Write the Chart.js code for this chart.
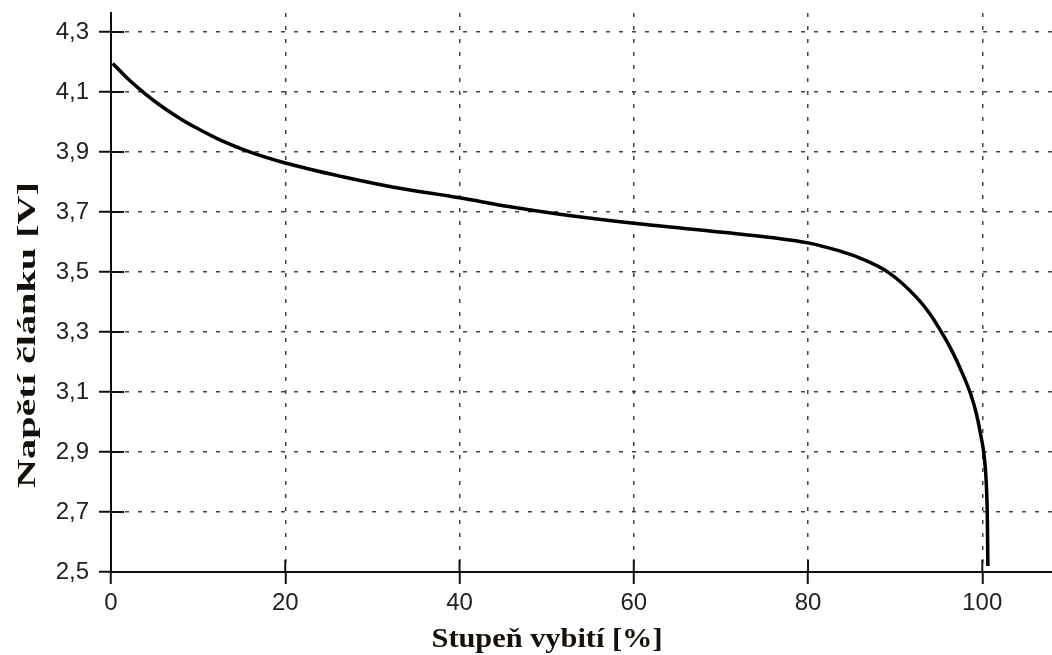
<!DOCTYPE html>
<html>
<head>
<meta charset="utf-8">
<script src="https://cdn.jsdelivr.net/npm/chart.js@4.4.1/dist/chart.umd.min.js"></script>
<style>
body{margin:0;background:#fff;}
</style>
</head>
<body>
<canvas id="discharge_chart" width="1052" height="655"></canvas>
<script>
// stupen vybiti [%] / napeti clanku [V]
var discharge = [0.2, 2, 4, 6, 8, 10, 12.5, 15.9, 20, 26.6, 32.3, 40, 45.8, 51.3, 60, 70.2, 76, 80, 83.6, 85.9, 89.3, 92.4, 94, 95.4, 96.6, 97.7, 98.7, 99.3, 99.8, 100.2, 100.45, 100.58, 100.64];
var voltage = [4.195, 4.142, 4.092, 4.048, 4.01, 3.977, 3.94, 3.9, 3.863, 3.817, 3.783, 3.747, 3.717, 3.693, 3.662, 3.632, 3.614, 3.597, 3.57, 3.547, 3.497, 3.417, 3.36, 3.295, 3.232, 3.163, 3.09, 3.03, 2.96, 2.89, 2.8, 2.68, 2.52];
var xTicks = [0, 20, 40, 60, 80, 100];
var yTicks = [2.5, 2.7, 2.9, 3.1, 3.3, 3.5, 3.7, 3.9, 4.1, 4.3];
var xTitle = 'Stupeň vybití [%]';
var yTitle = 'Napětí článku [V]';

var points = discharge.map(function(x, i){ return {x: x, y: voltage[i]}; });

// ticks crossing the axes + stretched axis titles
var axisExtras = {
    id: 'axisExtras',
    afterDraw: function(chart){
        var ctx = chart.ctx, a = chart.chartArea;
        var xs = chart.scales.x, ys = chart.scales.y;
        ctx.save();
        ctx.strokeStyle = '#111';
        ctx.lineWidth = 2;
        ctx.beginPath();
        xTicks.forEach(function(v){
            var px = xs.getPixelForValue(v);
            ctx.moveTo(px, a.bottom);
            ctx.lineTo(px, a.bottom - 12);
        });
        yTicks.forEach(function(v){
            var py = ys.getPixelForValue(v);
            ctx.moveTo(a.left, py);
            ctx.lineTo(a.left + 13, py);
        });
        ctx.stroke();

        ctx.fillStyle = '#15100a';
        ctx.textAlign = 'center';
        ctx.textBaseline = 'alphabetic';
        ctx.font = 'bold 27px "Liberation Serif"';
        var w = ctx.measureText(xTitle).width;
        ctx.save();
        ctx.translate(547, 647);
        ctx.scale(231 / w, 1);
        ctx.fillText(xTitle, 0, 0);
        ctx.restore();

        ctx.font = 'bold 26px "Liberation Serif"';
        w = ctx.measureText(yTitle).width;
        ctx.save();
        ctx.translate(35, 335);
        ctx.rotate(-Math.PI / 2);
        ctx.scale(306 / w, 1);
        ctx.fillText(yTitle, 0, 0);
        ctx.restore();
        ctx.restore();
    }
};

var tickFont = {family: 'Liberation Sans', size: 24};

var ctx = document.getElementById('discharge_chart').getContext('2d');
var dischargeChart = new Chart(ctx, {
    type: 'line',
    data: {
        datasets: [{
            data: points,
            borderColor: '#000',
            borderWidth: 3.5,
            pointRadius: 0,
            cubicInterpolationMode: 'monotone',
            fill: false
        }]
    },
    options: {
        responsive: false,
        animation: false,
        layout: {padding: {top: 13, right: 0, bottom: 0, left: 0}},
        plugins: {
            legend: {display: false},
            tooltip: {enabled: false}
        },
        scales: {
            x: {
                type: 'linear',
                min: 0,
                max: 108,
                afterBuildTicks: function(scale){
                    scale.ticks = xTicks.map(function(v){ return {value: v}; });
                },
                afterFit: function(scale){ scale.height = 83; },
                ticks: {
                    font: tickFont,
                    color: '#222',
                    padding: 5,
                    maxRotation: 0,
                    callback: function(v){ return String(v); }
                },
                grid: {
                    color: '#444',
                    lineWidth: 1.5,
                    tickLength: 12,
                    tickWidth: 2,
                    tickColor: '#111'
                },
                border: {display: true, color: '#111', width: 2, dash: [4, 9]}
            },
            y: {
                type: 'linear',
                min: 2.5,
                max: 4.363,
                afterBuildTicks: function(scale){
                    scale.ticks = yTicks.map(function(v){ return {value: v}; });
                },
                afterFit: function(scale){
                    scale.width = 111;
                    scale.paddingTop = 0;
                    scale.paddingBottom = 0;
                },
                ticks: {
                    font: tickFont,
                    color: '#222',
                    padding: 10,
                    callback: function(v){ return v.toFixed(1).replace('.', ','); }
                },
                grid: {
                    color: '#444',
                    lineWidth: 1.5,
                    tickLength: 12,
                    tickWidth: 2,
                    tickColor: '#111'
                },
                border: {display: true, color: '#111', width: 2, dash: [4, 9]}
            }
        }
    },
    plugins: [axisExtras]
});
</script>
</body>
</html>
